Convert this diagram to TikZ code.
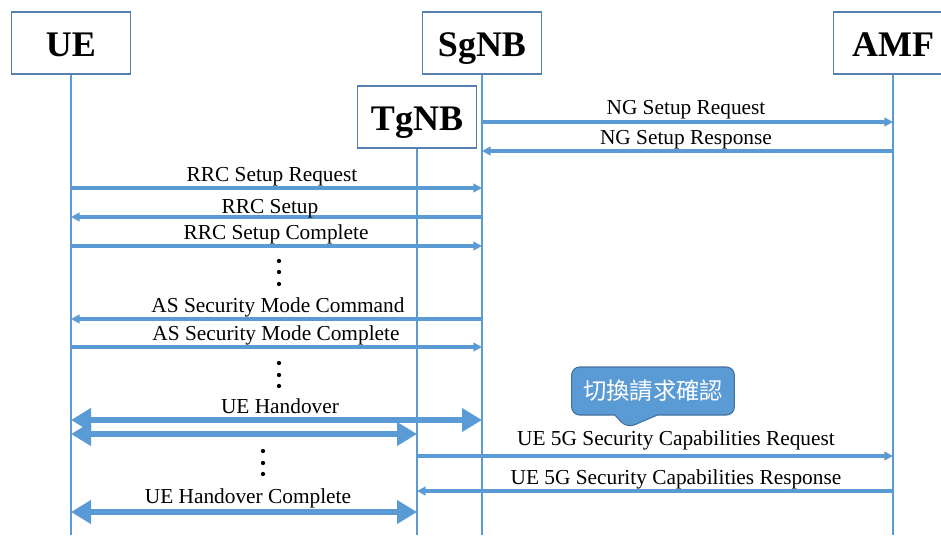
\documentclass[tikz,border=0pt]{standalone}
\usepackage{fontspec}
\setmainfont{Liberation Serif}
\newfontfamily\cjkfont{Noto Sans CJK TC}
\usetikzlibrary{arrows.meta,shapes.callouts}
\definecolor{seqblue}{RGB}{91,155,213}
\definecolor{seqedge}{RGB}{65,113,156}
\definecolor{boxedge}{RGB}{84,128,178}

\tikzset{
  actor/.style={draw=boxedge, line width=1.2pt, fill=white, minimum width=89pt,
    minimum height=46.5pt, text height=19.5pt, text depth=0pt,
    font=\fontsize{27}{30}\selectfont\bfseries},
  life/.style={draw=seqblue, line width=2.1pt},
  msg/.style={draw=seqblue, line width=2.3pt, -{Triangle[length=6.5pt,width=6.5pt]}},
  hand/.style={draw=seqblue, line width=5pt,
    {Triangle[length=15pt,width=17pt]}-{Triangle[length=15pt,width=17pt]}},
  lbl/.style={anchor=base, inner sep=0pt, font=\fontsize{16}{19}\selectfont},
  bubble/.style={rectangle callout, rounded corners=6pt, fill=seqblue, draw=seqedge,
    line width=0.8pt, text=white, minimum width=122pt, minimum height=36pt,
    callout pointer width=32pt, font=\fontsize{17.5}{20}\selectfont\cjkfont},
}

\begin{document}
\begin{tikzpicture}[x=0.75pt,y=-0.75pt]
  % picture in pixel units, y grows downward
  \useasboundingbox (0,0) rectangle (941,535);

  % actors
  \node[actor] (ue)   at (71,43)   {UE};
  \node[actor] (sgnb) at (482,43)  {SgNB};
  \node[actor] (tgnb) at (417,117) {TgNB};
  \node[actor] (amf)  at (893,43)  {AMF};

  % lifelines
  \coordinate (ue-end)   at (ue.south |- 0,535);
  \coordinate (sgnb-end) at (sgnb.south |- 0,535);
  \coordinate (tgnb-end) at (tgnb.south |- 0,535);
  \coordinate (amf-end)  at (amf.south |- 0,535);
  \draw[life] (ue.south) -- (ue-end);
  \draw[life] (sgnb.south) -- (sgnb-end);
  \draw[life] (tgnb.south) -- (tgnb-end);
  \draw[life] (amf.south) -- (amf-end);

  % NG setup
  \draw[msg] (sgnb |- 0,122) -- (amf |- 0,122);
  \node[lbl] (ngreq) at (686,114) {NG Setup Request};
  \draw[msg] (amf |- 0,151) -- (sgnb |- 0,151);
  \node[lbl] (ngrsp) at (686,144) {NG Setup Response};

  % RRC setup
  \draw[msg] (ue |- 0,188) -- (sgnb |- 0,188);
  \node[lbl] (rrcreq) at (272,181) {RRC Setup Request};
  \draw[msg] (sgnb |- 0,217) -- (ue |- 0,217);
  \node[lbl] (rrcset) at (270,213) {RRC Setup};
  \draw[msg] (ue |- 0,246) -- (sgnb |- 0,246);
  \node[lbl] (rrccmp) at (276,239) {RRC Setup Complete};

  % AS security
  \draw[msg] (sgnb |- 0,319) -- (ue |- 0,319);
  \node[lbl] (ascmd) at (278,312) {AS Security Mode Command};
  \draw[msg] (ue |- 0,347) -- (sgnb |- 0,347);
  \node[lbl] (ascmp) at (276,340) {AS Security Mode Complete};

  % handover
  \draw[hand] (ue |- 0,420) -- (sgnb |- 0,420);
  \node[lbl] (ho) at (280,413) {UE Handover};
  \draw[hand] (ue |- 0,434) -- (tgnb |- 0,434);
  \draw[hand] (ue |- 0,512) -- (tgnb |- 0,512);
  \node[lbl] (hocmp) at (248,503) {UE Handover Complete};

  % security capabilities
  \draw[msg] (tgnb |- 0,456) -- (amf |- 0,456);
  \node[lbl] (capreq) at (676,445) {UE 5G Security Capabilities Request};
  \draw[msg] (amf |- 0,491) -- (tgnb |- 0,491);
  \node[lbl] (caprsp) at (676,484) {UE 5G Security Capabilities Response};

  % dots
  \foreach \y in {261,272,284,363,375,386}
    \fill (279,\y) circle (1.6pt);
  \foreach \y in {451,463,474}
    \fill (263,\y) circle (1.6pt);

  % note
  \node[bubble, callout absolute pointer={(627,428)}] (hoack) at (653,391) {切換請求確認};
\end{tikzpicture}
\end{document}
